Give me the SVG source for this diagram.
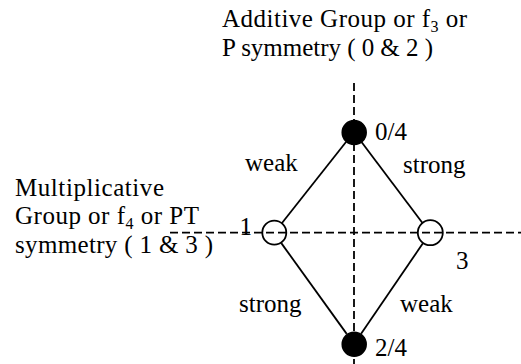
<svg xmlns="http://www.w3.org/2000/svg" width="521" height="364" viewBox="0 0 521 364">
<style>
.dash{stroke:#000;stroke-width:1.8;stroke-dasharray:8 4;fill:none}
.edge{stroke:#000;stroke-width:1.8;fill:none}
.filled{fill:#000;stroke:#000;stroke-width:1.5}
.open{fill:none;stroke:#000;stroke-width:1.8}
.t{font-family:'Times New Roman','Liberation Serif',Times,'DejaVu Serif',serif;font-size:25px;fill:#000}
</style>
<rect width="521" height="364" fill="#fff"/>
<g id="axes">
<line class="dash" x1="354" y1="83" x2="354" y2="364"/>
<line class="dash" x1="170" y1="232.7" x2="521" y2="232.7"/>
</g>
<g id="connectors">
<line class="edge" x1="346.2" y1="141.8" x2="281.8" y2="223.2"/>
<line class="edge" x1="361.5" y1="142" x2="422.5" y2="223"/>
<line class="edge" x1="281.3" y1="243.1" x2="346.7" y2="333.9"/>
<line class="edge" x1="422.9" y1="243.3" x2="361.1" y2="333.7"/>
</g>
<g class="t">
<g id="node-top"><circle class="filled" cx="354.2" cy="132.5" r="12"/><text x="375" y="140">0/4</text></g>
<g id="node-left"><circle class="open" cx="274.3" cy="232.7" r="12"/><text x="239.5" y="235">1</text></g>
<g id="node-right"><circle class="open" cx="430.3" cy="232.7" r="12.5"/><text x="456" y="269">3</text></g>
<g id="node-bottom"><circle class="filled" cx="354.2" cy="344.2" r="12"/><text x="375" y="356">2/4</text></g>
<g id="edge-labels">
<text x="245" y="171">weak</text>
<text x="403" y="173">strong</text>
<text x="239" y="312">strong</text>
<text x="400" y="312">weak</text>
</g>
<g id="label-top">
<text x="222" y="27" textLength="245" lengthAdjust="spacing">Additive Group or f<tspan font-size="16" dy="5">3</tspan><tspan dy="-5"> or</tspan></text>
<text x="222" y="56" textLength="211" lengthAdjust="spacing">P symmetry ( 0 &amp; 2 )</text>
</g>
<g id="label-left">
<text x="15" y="196" textLength="149" lengthAdjust="spacing">Multiplicative</text>
<text x="15" y="224" textLength="184" lengthAdjust="spacing">Group or f<tspan font-size="16" dy="5">4</tspan><tspan dy="-5"> or PT</tspan></text>
<text x="15" y="253" textLength="198" lengthAdjust="spacing">symmetry ( 1 &amp; 3 )</text>
</g>
</g>
</svg>
